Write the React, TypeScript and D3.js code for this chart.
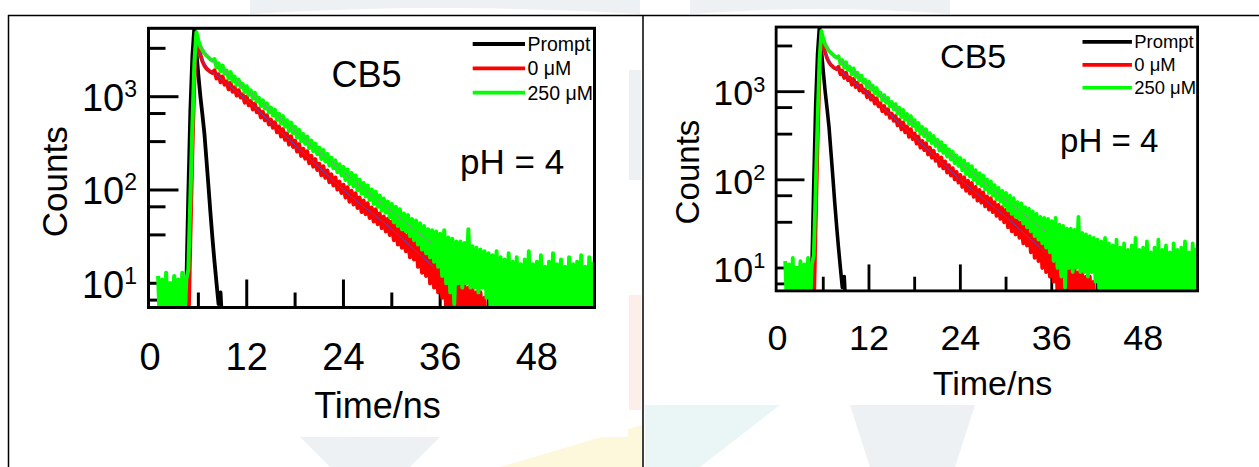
import React from "react";
import * as d3 from "d3";

// ---------- data ----------
const TIME_STEP = 0.25; // ns between sampled channels

const PROMPT_START = 4.25;
const PROMPT_COUNTS = [2, 9, 90, 700, 2700, 5600, 3000, 1700, 1000, 640, 400, 210, 110, 56, 30, 17, 10, 6, 8, 3, 5, 1];

const RED_START = 4.75; // 0 µM
const RED_COUNTS = [
  3, 30, 260, 1500, 4200, 3500, 2800, 2400, 2160, 2010, 1920, 1850, 1800,
  1920, 1570, 1735, 1430, 1645, 1347, 1458, 1200, 1407, 1129, 1260, 1028, 1173, 979, 1060, 864,
  1006, 811, 900, 731, 844, 681, 741, 600, 688, 559, 633, 505, 567, 466, 531, 415,
  480, 374, 449, 345, 403, 307, 376, 289, 337, 258, 310, 232, 277, 217, 260, 194,
  233, 178, 214, 164, 191, 144, 180, 135, 162, 121, 147, 112, 136, 101, 123, 93,
  114, 83, 107, 75, 98, 70, 92, 64, 83, 58, 77, 55, 72, 50, 65, 46,
  62, 43, 56, 39, 52, 36, 49, 33, 46, 29, 42, 26, 39, 24, 35, 22,
  33, 19, 30, 18, 30, 15, 28, 13, 26, 12, 25, 10, 23, 9, 21, 8,
  20, 7, 18, 5, 17, 4, 15, 3, 13, 3, 11, 2, 10, 3, 9, 2,
  9, 3, 8, 2, 8, 2, 7, 2, 1,
];

const GREEN_START = 1.0; // 250 µM
const GREEN_COUNTS = [
  12, 3, 11, 4, 13, 2, 10, 5, 12, 3, 11, 4, 13, 3, 11,
  14, 80, 480, 2300, 4900, 4000, 3450, 3150, 2920, 2760, 2640, 2510, 2430,
  2530, 2067, 2282, 1878, 2155, 1762, 1907, 1567, 1836, 1472, 1640, 1338, 1522, 1269, 1372, 1117,
  1296, 1049, 1168, 953, 1103, 894, 976, 795, 914, 746, 847, 678, 764, 629, 722, 566,
  657, 514, 620, 478, 559, 429, 528, 407, 476, 366, 441, 333, 398, 312, 375, 281,
  339, 261, 314, 242, 284, 215, 268, 202, 244, 184, 222, 171, 208, 155, 189, 144,
  177, 128, 166, 116, 152, 109, 143, 99, 129, 91, 119, 85, 112, 78, 101, 71,
  96, 66, 87, 60, 81, 57, 75, 51, 71, 45, 66, 41, 62, 38, 56, 36,
  54, 32, 49, 29, 47, 26, 44, 23, 41, 21, 38, 19, 37, 17, 36, 15,
  34, 12, 37, 10, 31, 8, 30, 6, 28, 10, 28, 9, 27, 10, 38, 9,
  25, 9, 24, 8, 23, 9, 22, 7, 21, 5, 20, 4, 22, 3, 19, 5,
  18, 2, 21, 4, 17, 3, 19, 2, 16, 4, 18, 3, 22, 2, 16, 4,
  17, 3, 20, 2, 15, 4, 17, 3, 21, 2, 16, 4, 18, 3, 15, 2,
  19, 4, 16, 3, 17, 2, 20, 4, 15, 3, 19, 2, 17,
];

const FIT_TIMES = [6.2, 7, 8, 10, 12, 14, 16, 18, 20, 22, 24, 26, 28, 30, 32, 34, 35.2];
const FIT_RED = [3000, 2050, 1778, 1279, 923, 637, 440, 304, 210, 145, 100, 72, 52.5, 38, 26.5, 18.5, 15];
const FIT_GREEN = [3600, 2800, 2344, 1669, 1189, 846, 603, 429, 305, 218, 155, 112, 81, 59, 43, 31, 26];

const X_DOMAIN: [number, number] = [-0.19, 55.15];
const Y_DOMAIN: [number, number] = [5.5, 5410];
const X_MAJOR = [12, 24, 36, 48];
const X_LABELS = [0, 12, 24, 36, 48];
const X_MINOR = [6, 18, 30, 42, 54];
const Y_MAJOR = [10, 100, 1000];
const Y_EXP = ["1", "2", "3"];
const Y_MINOR = [6.6, 33, 66, 330, 660, 3300];

const LEGEND = [
  { label: "Prompt", color: "#000000" },
  { label: "0 \u03bcM", color: "#ff0000" },
  { label: "250 \u03bcM", color: "#00ff00" },
];

const FONT = "'Liberation Sans', Arial, Helvetica, sans-serif";

const FRAME = { left: 148.5, right: 594.5, top: 28.3, bottom: 307.5 };

type PanelProps = {
  id: string;
  cb5: [number, number];
  ph: [number, number];
  img: [number, number, number, number];
};

function Panel({ id, cb5, ph, img }: PanelProps) {
  const x = d3.scaleLinear().domain(X_DOMAIN).range([FRAME.left, FRAME.right]);
  const y = d3.scaleLog().domain(Y_DOMAIN).range([FRAME.bottom, FRAME.top]);
  const series = (start: number, arr: number[]) =>
    d3
      .line<number>()
      .x((_, i) => x(start + i * TIME_STEP))
      .y((v) => y(Math.max(v, 1)))(arr) || "";
  const fit = (vals: number[]) =>
    d3
      .line<number>()
      .x((_, i) => x(FIT_TIMES[i]))
      .y((v) => y(v))
      .curve(d3.curveMonotoneX)(vals) || "";

  const majLen = 28;
  const minLen = 15;
  const clipId = `clip-${id}`;
  const legendY = [44, 68.3, 92.6];

  return (
    <g>
      <rect x={img[0]} y={img[1]} width={img[2]} height={img[3]} fill="#fff" />
      <defs>
        <clipPath id={clipId}>
          <rect x={FRAME.left} y={FRAME.top} width={FRAME.right - FRAME.left} height={FRAME.bottom - FRAME.top} />
        </clipPath>
      </defs>
      <g stroke="#000" strokeWidth={3}>
        {X_MAJOR.map((t) => (
          <line key={"xM" + t} x1={x(t)} x2={x(t)} y1={FRAME.bottom} y2={FRAME.bottom - majLen} />
        ))}
        {X_MINOR.map((t) => (
          <line key={"xm" + t} x1={x(t)} x2={x(t)} y1={FRAME.bottom} y2={FRAME.bottom - minLen} />
        ))}
        {Y_MAJOR.map((v) => (
          <line key={"yM" + v} x1={FRAME.left} x2={FRAME.left + majLen + 2} y1={y(v)} y2={y(v)} />
        ))}
        {Y_MINOR.map((v) => (
          <line key={"ym" + v} x1={FRAME.left} x2={FRAME.left + minLen + 2} y1={y(v)} y2={y(v)} />
        ))}
      </g>
      <g clipPath={`url(#${clipId})`} fill="none" strokeLinejoin="round">
        <path d={series(PROMPT_START, PROMPT_COUNTS)} stroke="#000" strokeWidth={3.8} />
        <path d={series(RED_START, RED_COUNTS)} stroke="#ff0000" strokeWidth={4} />
        <path d={series(GREEN_START, GREEN_COUNTS)} stroke="#00ff00" strokeWidth={4} />
        <path d={fit(FIT_RED)} stroke="#4b4bd8" strokeWidth={1} />
        <path d={fit(FIT_GREEN)} stroke="#a088a8" strokeWidth={1} />
      </g>
      <rect
        x={FRAME.left}
        y={FRAME.top}
        width={FRAME.right - FRAME.left}
        height={FRAME.bottom - FRAME.top}
        fill="none"
        stroke="#000"
        strokeWidth={3}
      />
      <g fontFamily={FONT} fill="#000">
        {X_LABELS.map((t) => (
          <text key={"xl" + t} x={x(t)} y={370} fontSize={38} textAnchor="middle">
            {t}
          </text>
        ))}
        {Y_MAJOR.map((v, i) => (
          <text key={"yl" + v} x={137} y={y(v) + 14.5} fontSize={38} textAnchor="end">
            10
            <tspan fontSize={23} dy={-14}>
              {Y_EXP[i]}
            </tspan>
          </text>
        ))}
        <text x={377.5} y={418} fontSize={36} textAnchor="middle">
          Time/ns
        </text>
        <text transform="translate(66.5,181.7) rotate(-90)" fontSize={35} textAnchor="middle">
          Counts
        </text>
        <text x={cb5[0]} y={cb5[1]} fontSize={36}>
          CB5
        </text>
        <text x={ph[0]} y={ph[1]} fontSize={35}>
          pH = 4
        </text>
        {LEGEND.map((d, i) => (
          <g key={d.label}>
            <line x1={472.7} x2={525} y1={legendY[i]} y2={legendY[i]} stroke={d.color} strokeWidth={3.8} />
            <text x={527.5} y={legendY[i] + 7} fontSize={19.5}>
              {d.label}
            </text>
          </g>
        ))}
      </g>
    </g>
  );
}

export default function App() {
  return (
    <svg
      width={1259}
      height={467}
      viewBox="0 0 1259 467"
      style={{ position: "fixed", left: 0, top: 0, background: "#fff" }}
    >
      <rect x={0} y={0} width={1259} height={467} fill="#fff" />
      {/* very faint page watermark visible around the figure images */}
      <g>
        <path d="M250,0 L640,0 L640,14 Q445,2 250,14 Z" fill="#edf1f3" />
        <path d="M690,0 L950,0 L950,14 Q820,4 690,14 Z" fill="#edf1f3" />
        <rect x={629} y={70} width={12} height={110} fill="#eef1f3" />
        <rect x={629} y={295} width={12} height={115} fill="#fdeee9" />
        <path d="M645,405 L780,405 L700,467 L645,467 Z" fill="#eaf6f6" />
        <path d="M300,437 L440,437 L410,467 L330,467 Z" fill="#eef1f3" />
        <path d="M500,467 L642,425 L642,467 Z" fill="#fdf7dc" />
        <path d="M850,405 L975,405 L955,467 L870,467 Z" fill="#eef1f3" />
      </g>
      <Panel id="a" cb5={[331.5, 86.7]} ph={[460, 173.8]} img={[8, 15, 620, 422]} />
      <g transform="translate(635.8,0.3) scale(0.945)">
        <Panel id="b" cb5={[322, 72]} ph={[449, 160.4]} img={[23.5, 15.6, 636, 412]} />
      </g>
      {/* table borders */}
      <g stroke="#000" strokeWidth={1.5}>
        <line x1={8} x2={1259} y1={15.5} y2={15.5} />
        <line x1={8.5} x2={8.5} y1={15} y2={467} />
        <line x1={643} x2={643} y1={15} y2={467} />
      </g>
    </svg>
  );
}
